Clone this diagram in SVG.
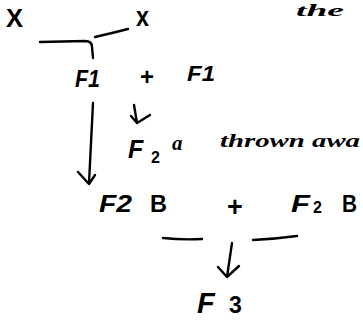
<svg xmlns="http://www.w3.org/2000/svg" width="363" height="320" viewBox="0 0 363 320">
<style>
  .t { font-family: "Liberation Sans", "DejaVu Sans", sans-serif; font-weight: bold; fill: #000; }
  .h { font-family: "Liberation Serif", "DejaVu Serif", serif; font-style: italic; font-weight: bold; fill: #000; }
  .c { fill: none; stroke: #000; stroke-width: 2.4; stroke-linecap: round; stroke-linejoin: round; }
</style>
<rect width="363" height="320" fill="#fff"/>
<g id="parent-X"><text class="t" x="6" y="27" font-size="26" textLength="17" lengthAdjust="spacingAndGlyphs">X</text></g>
<g id="parent-x"><text class="t" x="136" y="26" font-size="28" textLength="13" lengthAdjust="spacingAndGlyphs">x</text></g>
<g id="note-the"><text class="h" x="296" y="16" font-size="17" textLength="48" lengthAdjust="spacingAndGlyphs">the</text></g>
<g id="F1-left"><text class="t" x="75" y="87" font-size="24" font-style="italic" textLength="25" lengthAdjust="spacingAndGlyphs">F1</text></g>
<g id="plus-1"><text class="t" x="140" y="85" font-size="24">+</text></g>
<g id="F1-right"><text class="t" x="187" y="81" font-size="22" font-style="italic" textLength="28" lengthAdjust="spacingAndGlyphs">F1</text></g>
<g id="F2a">
  <text class="t" x="128" y="158" font-size="25" font-style="italic">F</text>
  <text class="t" x="151" y="163" font-size="16">2</text>
  <text class="h" x="172" y="150" font-size="21">a</text>
  <text class="h" x="220" y="147" font-size="18" textLength="140" lengthAdjust="spacingAndGlyphs">thrown awa</text>
</g>
<g id="F2B-left">
  <text class="t" x="99" y="212" font-size="24" font-style="italic" textLength="33" lengthAdjust="spacingAndGlyphs">F2</text>
  <text class="t" x="150" y="212" font-size="23" textLength="17" lengthAdjust="spacingAndGlyphs">B</text>
</g>
<g id="plus-2"><text class="t" x="227" y="216" font-size="27">+</text></g>
<g id="F2B-right">
  <text class="t" x="291" y="212" font-size="24" font-style="italic" textLength="19" lengthAdjust="spacingAndGlyphs">F</text>
  <text class="t" x="313" y="213" font-size="16">2</text>
  <text class="t" x="342" y="212" font-size="24" textLength="15" lengthAdjust="spacingAndGlyphs">B</text>
</g>
<g id="F3">
  <text class="t" x="197" y="313" font-size="29" font-style="italic">F</text>
  <text class="t" x="229" y="313" font-size="23">3</text>
</g>
<g id="connectors">
  <path class="c" d="M40 42 L85 41 Q92 41 92 47 L93 58"/>
  <path class="c" d="M95 37 L112 33 L128 29"/>
  <path class="c" d="M93 103 L89 183 M78 172 L89 184 L95 175"/>
  <path class="c" d="M134 105 L137 123 M131 116 L137 123 L150 115"/>
  <path class="c" d="M163 238 Q182 240 202 239"/>
  <path class="c" d="M253 240 Q275 239 297 236"/>
  <path class="c" d="M232 243 L227 277 M218 267 L227 277 L239 266"/>
</g>
</svg>
